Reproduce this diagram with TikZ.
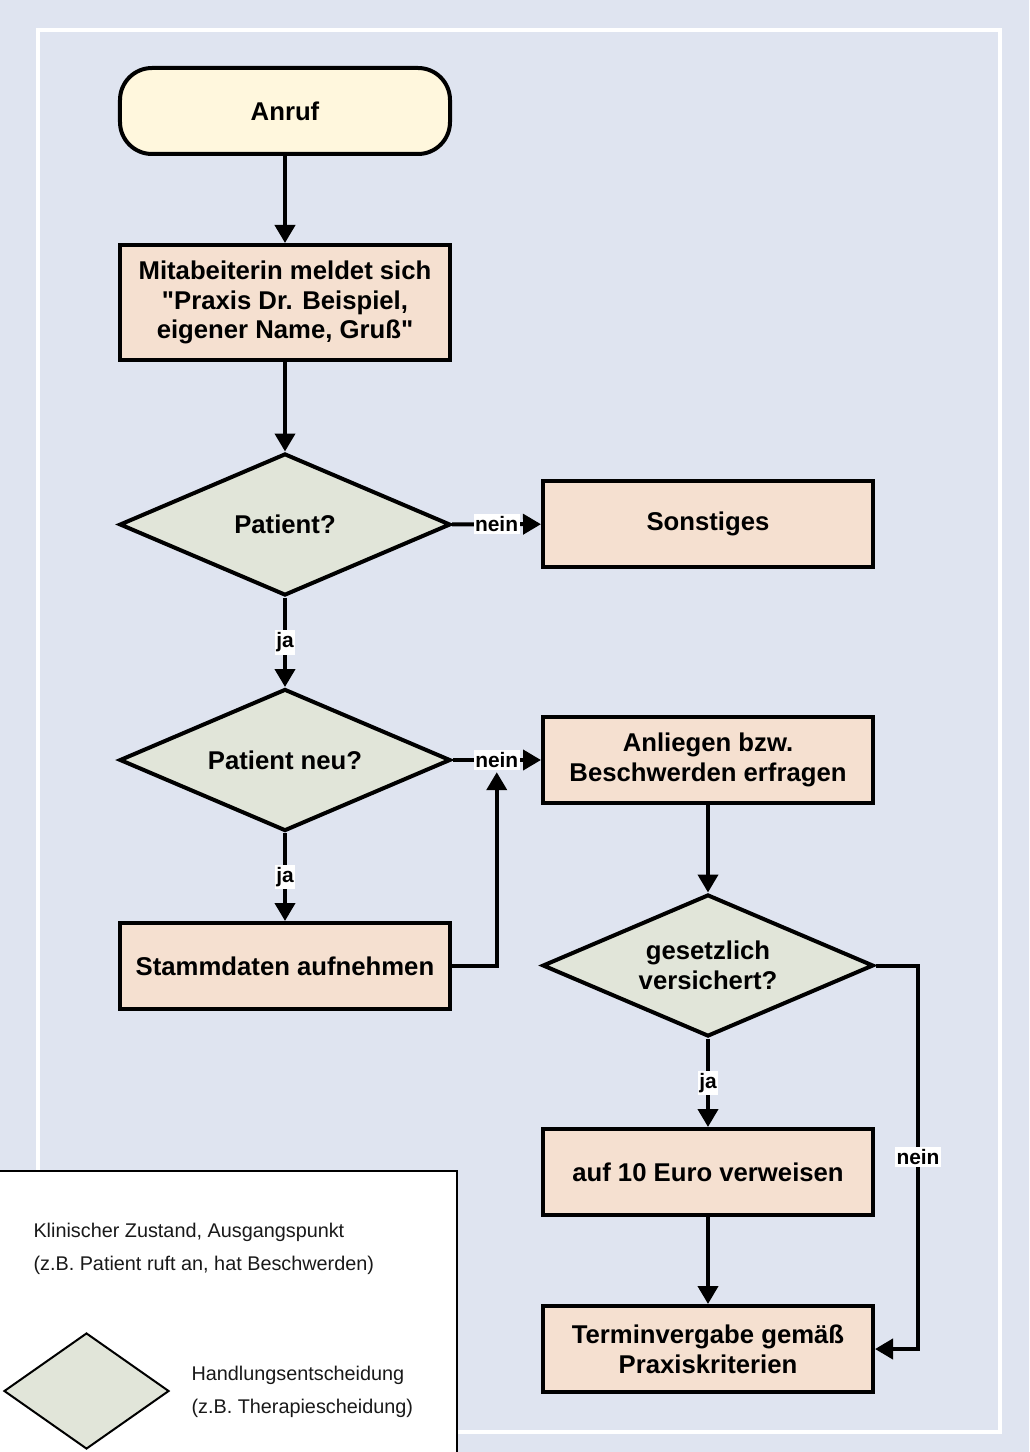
\documentclass[tikz,border=0pt]{standalone}
\usepackage{fontspec}
\setmainfont{Liberation Sans}[Ligatures=TeXOff]
\setsansfont{Liberation Sans}[Ligatures=TeXOff]
\usetikzlibrary{shapes.geometric,arrows.meta}
\definecolor{bgblue}{HTML}{DFE4F0}
\definecolor{cream}{HTML}{FFF7DD}
\definecolor{peach}{HTML}{F5E0D0}
\definecolor{sage}{HTML}{E1E5D9}
\begin{document}
\begin{tikzpicture}[x=1bp,y=-1bp,
 base/.style={draw=black, line width=4bp, font=\fontsize{25.8}{30}\selectfont\bfseries, align=center, text=black},
 startbox/.style={base, rounded corners=32bp, fill=cream, minimum width=330bp, minimum height=86bp},
 actbox/.style={base, fill=peach, minimum width=330bp, minimum height=86bp},
 decbox/.style={base, shape=diamond, fill=sage, minimum width=331bp, minimum height=142bp, inner sep=0pt, aspect=2.3},
 arr/.style={line width=4bp, -{Triangle[length=18bp,width=20bp]}},
 lbl/.style={fill=white, inner xsep=1.5bp, inner ysep=2.5bp, font=\fontsize{21}{24}\selectfont\bfseries},
 legtext/.style={anchor=west, font=\fontsize{19.9}{23}\selectfont, text=black!90}
]
\useasboundingbox (0,0) rectangle (1029,1452);
\fill[bgblue] (0,0) rectangle (1029,1452);
\draw[white, line width=4bp] (38,30) rectangle (1000,1432);

% nodes
\node[startbox] (anruf) at (285,111) {Anruf};
\node[actbox, minimum height=115bp] (mit) at (285,302.5) {Mitabeiterin meldet sich\\"Praxis Dr. Beispiel,\\eigener Name, Gruß"};
\node[decbox] (pat) at (285,524.5) {Patient?};
\node[actbox] (sonst) at (708,524) {Sonstiges};
\node[decbox] (neu) at (285,760) {Patient neu?};
\node[actbox] (anl) at (708,760) {Anliegen bzw.\\Beschwerden erfragen};
\node[actbox] (stamm) at (285,966) {Stammdaten aufnehmen};
\node[decbox] (ges) at (708,965.5) {gesetzlich\\versichert?};
\node[actbox] (euro) at (708,1172) {auf 10 Euro verweisen};
\node[actbox] (term) at (708,1349) {Terminvergabe gemäß\\Praxiskriterien};

% connectors
\draw[arr] (anruf) -- (mit);
\draw[arr] (mit) -- (pat);
\draw[arr] (pat) -- node[lbl] {ja} (neu);
\draw[arr] (pat) -- node[lbl] {nein} (sonst);
\draw[arr] (neu) -- node[lbl] {ja} (stamm);
\draw[arr] (neu) -- node[lbl] (nein2) {nein} (anl);
\draw[arr] (stamm.east) -| (nein2.south);
\draw[arr] (anl) -- (ges);
\draw[arr] (ges) -- node[lbl] {ja} (euro);
\draw[arr] (euro) -- (term);
\coordinate (gr) at (918,965.5);
\draw[arr] (ges.east) -- (gr) |- node[lbl, pos=0.25] {nein} (term.east);

% legend
\draw[line width=2.5bp, fill=white] (-5,1171) rectangle (457,1470);
\node[legtext] (l1) at (30,1232) {Klinischer Zustand, Ausgangspunkt};
\node[legtext] (l2) at (30,1265) {(z.B. Patient ruft an, hat Beschwerden)};
\node[draw=black, line width=2bp, shape=diamond, fill=sage, minimum width=165bp, minimum height=116bp, inner sep=0pt, aspect=1.4] (legdia) at (86.5,1391) {};
\node[legtext] (l3) at (188,1375) {Handlungsentscheidung};
\node[legtext] (l4) at (188,1408) {(z.B. Therapiescheidung)};
\end{tikzpicture}
\end{document}
